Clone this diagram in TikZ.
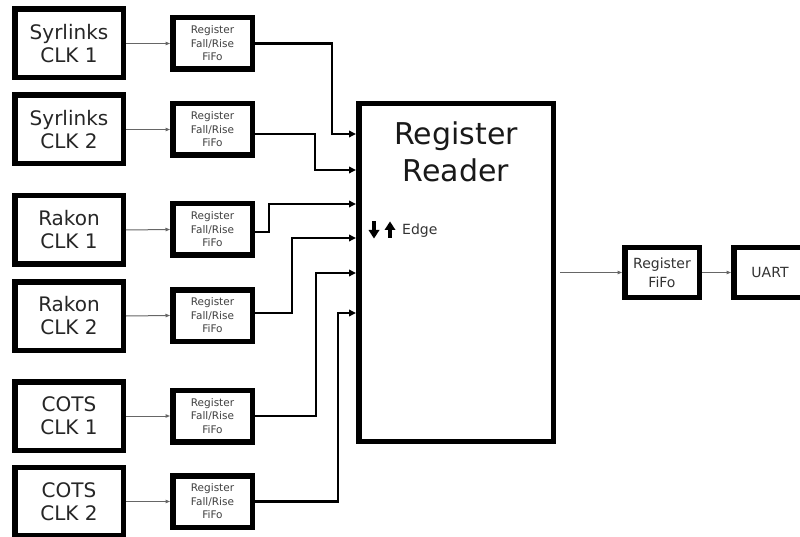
\documentclass[tikz,border=0pt]{standalone}
\usepackage{fontspec}
\setmainfont{DejaVu Sans}
\usetikzlibrary{arrows.meta,calc}
\begin{document}
\begin{tikzpicture}[x=1pt,y=-1pt,
  box/.style={draw=black,line width=5.5pt,fill=white,inner sep=0pt,align=center},
  srcbox/.style={box,minimum width=108.5pt,minimum height=68.5pt,font=\fontsize{20}{23}\selectfont,text=black!85},
  regbox/.style={box,minimum width=79.5pt,minimum height=51.5pt,font=\fontsize{10.5}{13.5}\selectfont,text=black!75},
  outbox/.style={box,minimum height=49.5pt,font=\fontsize{14}{19}\selectfont,text=black!80},
  thinc/.style={draw=black!60,line width=1pt,-{Triangle[length=4.5pt,width=3.5pt]}},
  thickc/.style={draw=black,line width=2.5pt,-{Triangle[length=7pt,width=6.5pt]}},
  bigarrow/.style={fill=black}
]
\useasboundingbox (0,0) rectangle (800,537);

% source clocks
\node[srcbox] (s1) at (69,43.5) {Syrlinks\\CLK 1};
\node[srcbox] (s2) at (69,129.5) {Syrlinks\\CLK 2};
\node[srcbox] (s3) at (69,230) {Rakon\\CLK 1};
\node[srcbox] (s4) at (69,316) {Rakon\\CLK 2};
\node[srcbox] (s5) at (69,416) {COTS\\CLK 1};
\node[srcbox] (s6) at (69,501.5) {COTS\\CLK 2};

% register boxes
\node[regbox] (r1) at (212.5,43.5) {Register\\Fall/Rise\\FiFo};
\node[regbox] (r2) at (212.5,129.5) {Register\\Fall/Rise\\FiFo};
\node[regbox] (r3) at (212.5,229.5) {Register\\Fall/Rise\\FiFo};
\node[regbox] (r4) at (212.5,315.5) {Register\\Fall/Rise\\FiFo};
\node[regbox] (r5) at (212.5,416) {Register\\Fall/Rise\\FiFo};
\node[regbox] (r6) at (212.5,501.5) {Register\\Fall/Rise\\FiFo};

% register reader
\node[box,minimum width=194.5pt,minimum height=337.5pt] (reader) at (456,272.5) {};
\node[font=\fontsize{30}{37}\selectfont,text=black!90,anchor=base] (rt1) at (456,145) {Register};
\node[font=\fontsize{30}{37}\selectfont,text=black!90,anchor=base] (rt2) at (456,182) {Reader};
\node[font=\fontsize{14}{16}\selectfont,text=black!80,anchor=base west,inner sep=0pt] (edge) at (402,235) {Edge};
% edge arrows
\fill[bigarrow] (372,221) rectangle (376,230.5);
\fill[bigarrow] (368.5,230) -- (379.5,230) -- (374,238.5) -- cycle;
\fill[bigarrow] (388,229.5) rectangle (392,238.5);
\fill[bigarrow] (384.5,230) -- (395.5,230) -- (390,221.5) -- cycle;

% outputs
\node[outbox,minimum width=74.5pt] (fifo) at (662,272.5) {Register\\FiFo};
\node[outbox,minimum width=72.5pt] (uart) at (770,272.5) {UART};

% thin arrows
\foreach \i in {1,...,6} {\draw[thinc] (s\i.east) -- (r\i.west);}
\draw[thinc,shorten <=4pt] (reader.east) -- (fifo.west);
\draw[thinc] (fifo.east) -- (uart.west);

% thick connectors
\draw[thickc] (r1.east) -| (332,134) -- (reader.west |- 0,134);
\draw[thickc] ([yshift=-4.5pt]r2.east) -| (315,170) -- (reader.west |- 0,170);
\draw[thickc] ([yshift=-2.5pt]r3.east) -| (269,204) -- (reader.west |- 0,204);
\draw[thickc] ([yshift=2.5pt]r4.east) -| (292,238) -- (reader.west |- 0,238);
\draw[thickc] (r5.east) -| (316,273) -- (reader.west |- 0,273);
\draw[thickc] (r6.east) -| (338,313) -- (reader.west |- 0,313);
\end{tikzpicture}
\end{document}
